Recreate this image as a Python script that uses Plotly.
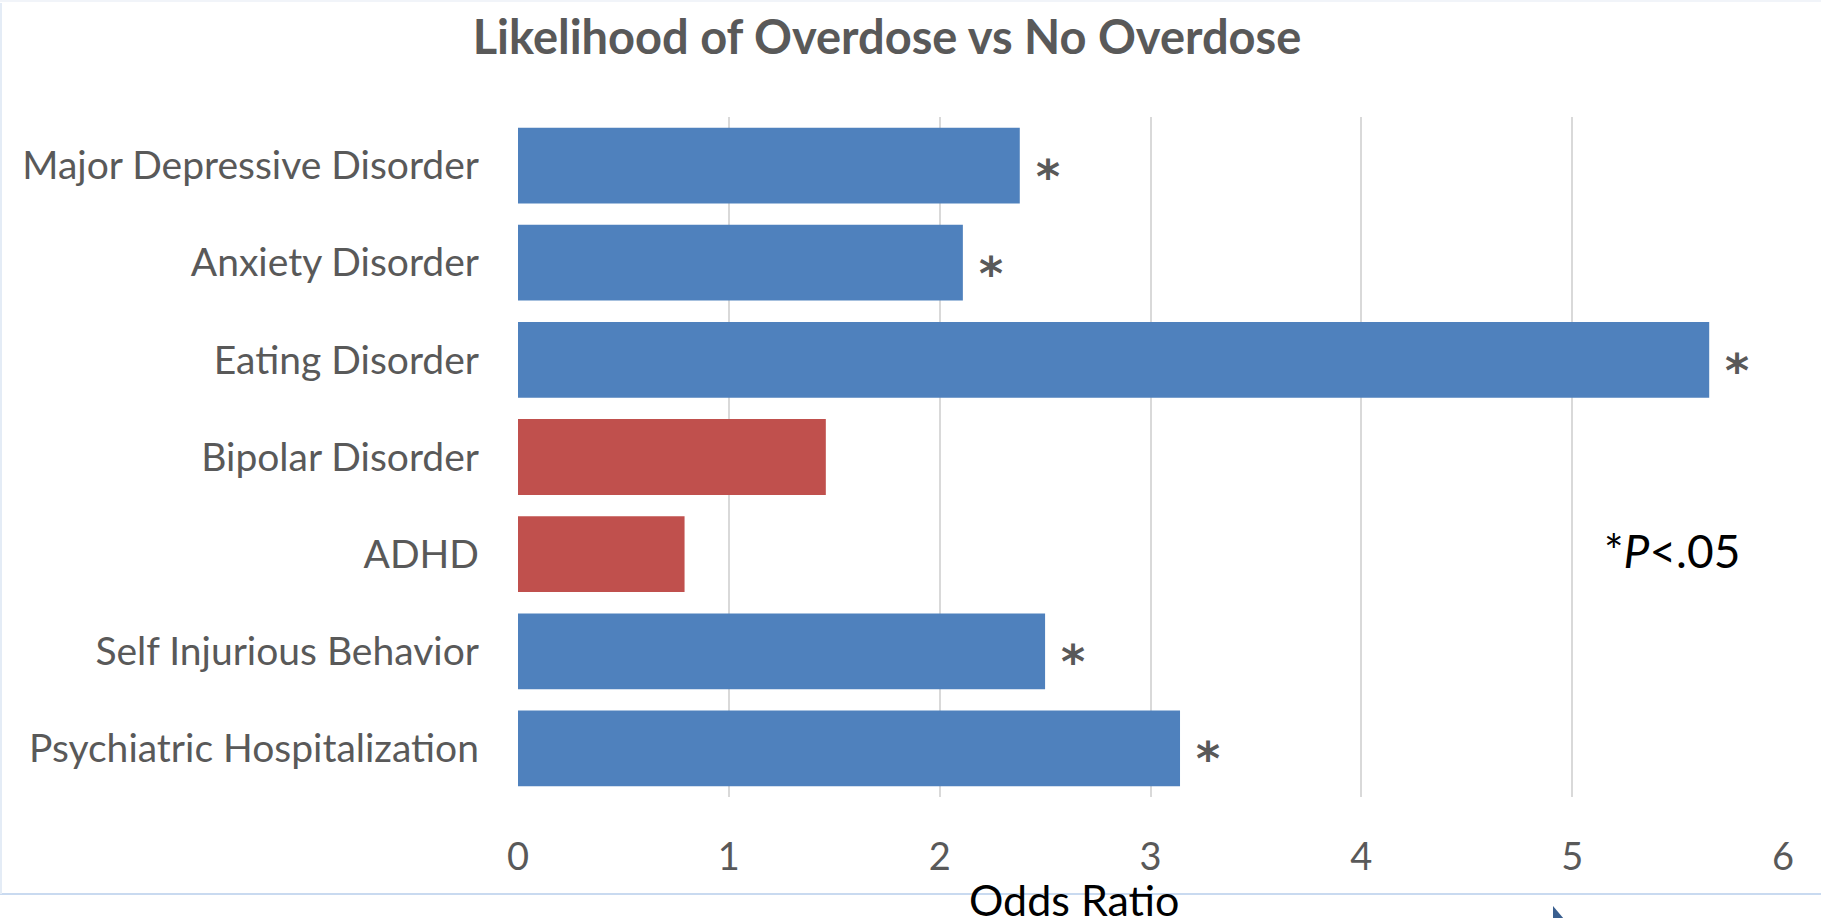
import plotly.graph_objects as go

# Odds ratios of overdose vs no overdose, by condition
categories = [
    "Major Depressive Disorder",
    "Anxiety Disorder",
    "Eating Disorder",
    "Bipolar Disorder",
    "ADHD",
    "Self Injurious Behavior",
    "Psychiatric Hospitalization",
]
odds_ratio = [2.38, 2.11, 5.65, 1.46, 0.79, 2.50, 3.14]
significant = [True, True, True, False, False, True, True]
x_ticks = [0, 1, 2, 3, 4, 5, 6]

W, H = 1821, 918
L, R, T, B = 518, 1783, 117, 797  # plot area in pixels

BLUE = "#4F81BD"
RED = "#C0504D"
GREY_TEXT = "#595959"
FONT = "Lato"


def px(xp):
    return (xp - L) / (R - L)


def py(yp):
    return (B - yp) / (B - T)


colors = [BLUE if s else RED for s in significant]

fig = go.Figure(
    go.Bar(
        x=odds_ratio,
        y=categories,
        orientation="h",
        marker=dict(color=colors, line=dict(width=0)),
        hoverinfo="x+y",
    )
)

# significance markers next to the significant bars
for cat, val, sig in zip(categories, odds_ratio, significant):
    if sig:
        fig.add_annotation(
            x=val, y=cat, xref="x", yref="y", text="<b>*</b>",
            showarrow=False, xanchor="left", yanchor="middle",
            xshift=14, yshift=-11,
            font=dict(family="DejaVu Sans", size=46, color=GREY_TEXT,
                      weight="bold"),
        )

# key for the asterisk
fig.add_annotation(
    x=px(1742), y=py(550), xref="paper", yref="paper",
    text="*<i>P</i>&lt;.05", showarrow=False,
    xanchor="right", yanchor="middle",
    font=dict(family=FONT, size=46, color="black"),
)

# axis title
fig.add_annotation(
    x=px(1074), y=py(900), xref="paper", yref="paper",
    text="Odds Ratio", showarrow=False,
    xanchor="center", yanchor="middle",
    font=dict(family=FONT, size=43, color="black"),
)

shapes = [
    # frame edges around the chart area
    dict(type="line", xref="paper", yref="paper",
         x0=px(0), x1=px(W), y0=py(894), y1=py(894),
         line=dict(color="#C9DAF0", width=2), layer="below"),
    dict(type="line", xref="paper", yref="paper",
         x0=px(1), x1=px(1), y0=py(3), y1=py(894),
         line=dict(color="#E4ECF6", width=2), layer="below"),
    dict(type="line", xref="paper", yref="paper",
         x0=px(0), x1=px(W), y0=py(1), y1=py(1),
         line=dict(color="#F1F4F9", width=2), layer="below"),
    # pointer at the bottom edge
    dict(type="path", xref="paper", yref="paper",
         path=f"M {px(1553)} {py(906)} L {px(1553)} {py(919)} L {px(1564)} {py(919)} Z",
         fillcolor="#3A5F8F", line=dict(width=0)),
]

fig.update_layout(
    width=W, height=H,
    margin=dict(l=L, r=W - R, t=T, b=H - B, pad=0),
    paper_bgcolor="white", plot_bgcolor="white",
    showlegend=False,
    bargap=0.22,
    shapes=shapes,
    title=dict(
        text="<b>Likelihood of Overdose vs No Overdose</b>",
        x=887 / W, xref="container", xanchor="center",
        y=1 - 38 / H, yref="container", yanchor="middle",
        font=dict(family=FONT, size=47, color=GREY_TEXT),
    ),
    xaxis=dict(
        range=[0, 6], tickvals=x_ticks, ticktext=[str(t) for t in x_ticks],
        showgrid=True, gridcolor="#D9D9D9", gridwidth=1.5,
        zeroline=False, showline=False, ticks="",
        ticklabelstandoff=34,
        tickfont=dict(family=FONT, size=38, color=GREY_TEXT),
        fixedrange=True,
    ),
    yaxis=dict(
        autorange="reversed", showgrid=False, zeroline=False, showline=False,
        ticks="", ticklabelstandoff=38,
        tickfont=dict(family=FONT, size=39, color=GREY_TEXT),
        fixedrange=True,
    ),
)

fig.write_html("out.html")
